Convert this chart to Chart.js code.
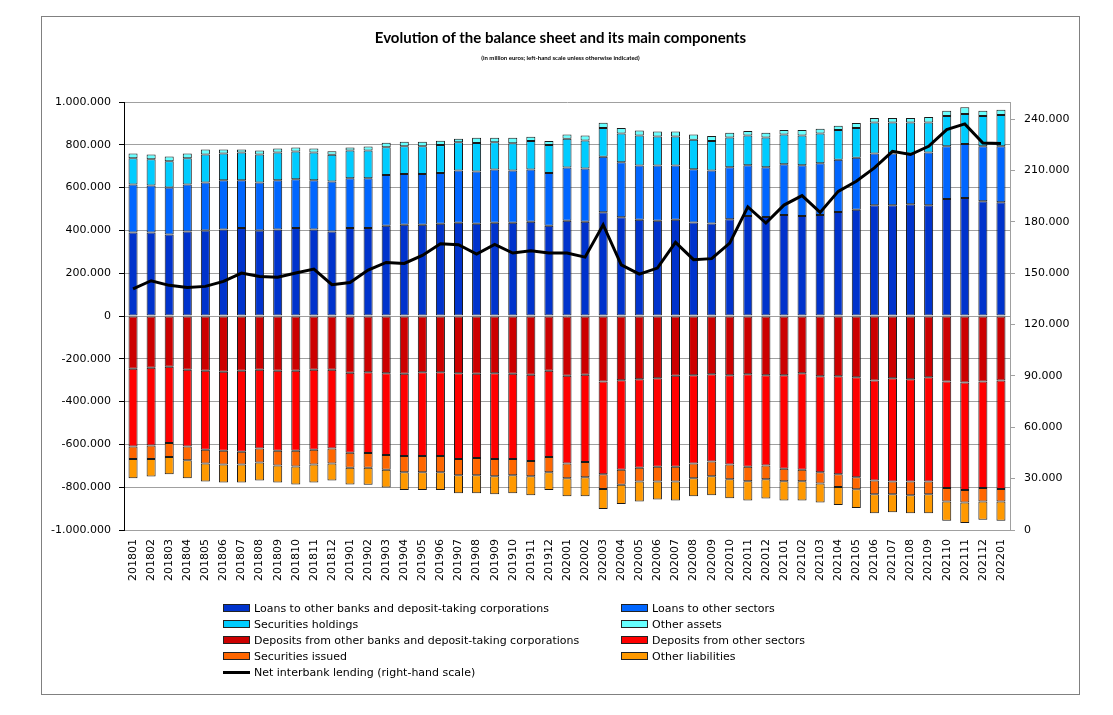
<!DOCTYPE html>
<html>
<head>
<meta charset="utf-8">
<script src="https://cdn.jsdelivr.net/npm/chart.js@4.4.1/dist/chart.umd.min.js"></script>
<style>
  body { margin: 0; background: #fff; }
  #wrap { position: relative; width: 1113px; height: 715px; }
  #frame { position: absolute; left: 41px; top: 16px; width: 1037px; height: 677px; border: 1px solid #808080; pointer-events: none; }
  #myChart { position: absolute; left: 0; top: 0; }
  .titulo { position: absolute; left: 0; width: 1121px; text-align: center; font-family: Lato, "Liberation Sans", sans-serif; font-weight: bold; color: #000; }
  #t1 { top: 28px; font-size: 15px; }
  #t2 { top: 54px; font-size: 6px; }
  .leyenda { position: absolute; font-family: "DejaVu Sans", sans-serif; font-size: 11px; color: #000; white-space: nowrap; line-height: 16px; }
  .leyenda span.caja { display: inline-block; width: 25px; height: 6px; border: 1px solid #222; vertical-align: middle; margin-right: 4px; margin-top: -2px; }
  .leyenda span.linea { display: inline-block; width: 27px; height: 3px; background: #000; vertical-align: middle; margin-right: 4px; margin-top: -2px; }
</style>
</head>
<body>
<div id="wrap">
  <canvas id="myChart" width="1113" height="715"></canvas>
  <div id="frame"></div>
  <div class="titulo" id="t1">Evolution of the balance sheet and its main components</div>
  <div class="titulo" id="t2">(in million euros; left-hand scale unless otherwise indicated)</div>
  <div id="leyenda"></div>
</div>
<script>
// values in thousand million euros
var meses = ["201801","201802","201803","201804","201805","201806","201807","201808","201809","201810","201811","201812",
  "201901","201902","201903","201904","201905","201906","201907","201908","201909","201910","201911","201912",
  "202001","202002","202003","202004","202005","202006","202007","202008","202009","202010","202011","202012",
  "202101","202102","202103","202104","202105","202106","202107","202108","202109","202110","202111","202112",
  "202201"];

var prestBancos = [390.6,390.6,381.3,395.3,400.0,404.7,410.9,400.0,404.7,410.9,404.7,395.3,
  410.9,410.9,421.9,426.6,426.6,431.3,435.9,431.3,435.9,435.9,440.6,421.9,
  445.3,440.6,484.4,460.9,450.0,445.3,450.0,437.5,432.8,451.6,467.2,462.5,
  471.9,467.2,471.9,485.9,496.9,517.2,517.2,521.9,517.2,546.9,551.6,535.9,
  531.3];
var prestSectores = [223.4,218.8,218.8,218.8,223.4,229.7,223.4,223.4,229.7,228.1,229.7,232.8,
  232.8,232.8,237.5,237.5,237.5,237.5,243.8,243.8,248.4,243.8,243.8,246.9,
  248.4,248.4,259.4,257.8,253.1,257.8,253.1,248.4,246.9,243.8,237.5,232.8,
  237.5,237.5,242.2,243.8,242.2,242.2,242.2,237.5,246.9,246.9,251.6,257.8,
  262.5];
var valores = [123.4,123.4,123.4,123.4,131.3,125.0,129.7,131.3,129.7,129.7,129.7,125.0,
  129.7,129.7,129.7,129.7,129.7,129.7,132.8,132.8,128.1,128.1,132.8,129.7,
  134.4,131.3,134.4,134.4,140.6,135.9,135.9,137.5,137.5,139.1,139.1,139.1,
  139.1,139.1,139.1,139.1,139.1,145.3,145.3,145.3,140.6,140.6,140.6,140.6,
  145.3];
var otrosActivos = [21.9,21.9,21.9,21.9,23.4,18.8,14.1,18.8,18.8,18.8,18.8,17.2,
  14.1,18.8,20.3,20.3,20.3,20.3,15.6,25.0,20.3,25.0,20.3,18.8,
  20.3,23.4,25.0,25.0,23.4,23.4,23.4,25.0,23.4,21.9,20.3,21.9,
  20.3,25.0,21.9,20.3,23.4,20.3,20.3,20.3,25.0,25.0,31.3,25.0,
  25.0];
var depBancos = [-246.9,-242.2,-237.5,-251.6,-256.3,-260.9,-256.3,-251.6,-256.3,-256.3,-251.6,-251.6,
  -265.6,-262.5,-267.2,-270.3,-262.5,-262.5,-267.2,-270.3,-267.2,-270.3,-275.0,-256.3,
  -279.7,-275.0,-306.3,-300.0,-295.3,-290.6,-279.7,-276.6,-271.9,-276.6,-271.9,-276.6,
  -276.6,-267.2,-281.3,-281.3,-285.9,-301.6,-290.6,-295.3,-285.9,-306.3,-310.9,-306.3,
  -301.6];
var depSectores = [-362.5,-362.5,-356.3,-357.8,-368.8,-368.8,-378.1,-367.2,-373.4,-373.4,-373.4,-367.2,
  -373.4,-378.1,-382.8,-384.4,-392.2,-392.2,-401.6,-393.8,-401.6,-398.4,-403.1,-403.1,
  -409.4,-407.8,-432.8,-418.8,-414.1,-414.1,-425.0,-412.5,-407.8,-417.2,-432.8,-421.9,
  -437.5,-451.6,-448.4,-457.8,-467.2,-467.2,-482.8,-478.1,-487.5,-496.9,-501.6,-496.9,
  -506.3];
var emitidos = [-59.4,-64.1,-65.6,-64.1,-64.1,-64.1,-59.4,-65.6,-68.8,-73.4,-68.8,-70.3,
  -70.3,-68.8,-68.8,-75.0,-75.0,-75.0,-75.0,-79.7,-79.7,-75.0,-70.3,-70.3,
  -68.8,-70.3,-68.8,-70.3,-64.1,-68.8,-68.8,-68.8,-68.8,-68.8,-67.2,-64.1,
  -57.8,-53.1,-53.1,-59.4,-56.3,-64.1,-59.4,-64.1,-59.4,-64.1,-59.4,-64.1,
  -59.4];
var otrosPasivos = [-89.1,-81.3,-79.7,-84.4,-84.4,-84.4,-84.4,-84.4,-79.7,-84.4,-84.4,-79.7,
  -78.1,-79.7,-82.8,-82.8,-82.8,-82.8,-84.4,-84.4,-84.4,-84.4,-89.1,-82.8,
  -84.4,-89.1,-93.8,-89.1,-93.8,-84.4,-89.1,-84.4,-89.1,-89.1,-90.6,-90.6,
  -90.6,-90.6,-89.1,-84.4,-87.5,-89.1,-84.4,-84.4,-89.1,-89.1,-95.3,-84.4,
  -89.1];
var interbancario = [140.9,145.6,142.9,141.7,142.3,145.2,150.1,148.1,147.7,150.1,152.4,143.3,
  144.6,151.8,156.3,155.7,160.4,167.2,166.6,161.2,166.8,161.8,163.1,161.8,
  161.8,159.4,178.3,154.9,149.5,153.0,168.0,157.9,158.5,167.6,188.7,179.3,
  189.8,195.3,185.5,197.8,203.7,211.5,221.2,219.3,224.1,233.9,237.2,226.1,
  225.7];

// right-hand scale ticks (axis goes up to 250.000)
var ticksDerecha = [0, 30000, 60000, 90000, 120000, 150000, 180000, 210000, 240000];

const ctx = document.getElementById('myChart');

function miles(v) {
  return Math.round(v * 1000);
}

function formato(v) {
  return String(v).replace(/\B(?=(\d{3})+(?!\d))/g, ".");
}

function barra(nombre, datos, color) {
  return {
    type: "bar",
    label: nombre,
    data: datos.map(miles),
    backgroundColor: color,
    borderColor: "#1a1a1a",
    borderWidth: 1,
    borderSkipped: false,
    yAxisID: "y",
    order: 1
  };
}

var series = [
  barra("Loans to other banks and deposit-taking corporations", prestBancos, "#0033CC"),
  barra("Loans to other sectors", prestSectores, "#0066FF"),
  barra("Securities holdings", valores, "#00CCFF"),
  barra("Other assets", otrosActivos, "#66FFFF"),
  barra("Deposits from other banks and deposit-taking corporations", depBancos, "#CC0000"),
  barra("Deposits from other sectors", depSectores, "#FF0000"),
  barra("Securities issued", emitidos, "#FF6600"),
  barra("Other liabilities", otrosPasivos, "#FF9900")
];

series.push({
  type: "line",
  label: "Net interbank lending (right-hand scale)",
  data: interbancario.map(miles),
  borderColor: "#000",
  backgroundColor: "#000",
  borderWidth: 3,
  pointRadius: 0,
  tension: 0,
  fill: false,
  yAxisID: "y1",
  order: 0
});

Chart.defaults.font.family = "'DejaVu Sans', sans-serif";
Chart.defaults.font.size = 11;
Chart.defaults.color = "#000";

new Chart(ctx, {
  type: "bar",
  data: { labels: meses, datasets: series },
  options: {
    responsive: false,
    animation: false,
    devicePixelRatio: 1,
    layout: { padding: { top: 102, left: 0, right: 0, bottom: 0 } },
    plugins: {
      legend: { display: false },
      tooltip: { enabled: false }
    },
    datasets: {
      bar: { barPercentage: 0.5, categoryPercentage: 1 }
    },
    scales: {
      x: {
        stacked: true,
        grid: { display: false, drawTicks: false },
        border: { color: "#a0a0a0" },
        ticks: { autoSkip: false, minRotation: 90, maxRotation: 90, padding: 9 },
        afterFit: function (s) { s.height = 185; }
      },
      y: {
        stacked: true,
        position: "left",
        min: -1000000,
        max: 1000000,
        grid: { color: "#a0a0a0", tickColor: "#000", tickLength: 5 },
        border: { color: "#000" },
        ticks: { stepSize: 200000, padding: 8, callback: function (v) { return formato(v); } },
        afterFit: function (s) { s.width = 124; }
      },
      y1: {
        stacked: false,
        position: "right",
        min: 0,
        max: 250000,
        grid: { drawOnChartArea: false, tickColor: "#a0a0a0", tickLength: 5 },
        border: { color: "#a0a0a0" },
        ticks: { padding: 9, callback: function (v) { return formato(v); } },
        afterBuildTicks: function (s) {
          s.ticks = ticksDerecha.map(function (v) { return { value: v }; });
        },
        afterFit: function (s) { s.width = 103; }
      }
    }
  }
});

// legend in two columns, as in the original
var leyenda = document.getElementById("leyenda");

for (let i = 0; i < series.length; i++) {
  let d = series[i];
  let item = document.createElement("div");
  item.className = "leyenda";
  item.style.left = (i % 2 == 0 ? 223 : 621) + "px";
  item.style.top = (601 + Math.floor(i / 2) * 16) + "px";
  let marca = d.type == "line" ? '<span class="linea"></span>' : '<span class="caja" style="background:' + d.backgroundColor + '"></span>';
  item.innerHTML = marca + d.label;
  leyenda.appendChild(item);
}
</script>
</body>
</html>
